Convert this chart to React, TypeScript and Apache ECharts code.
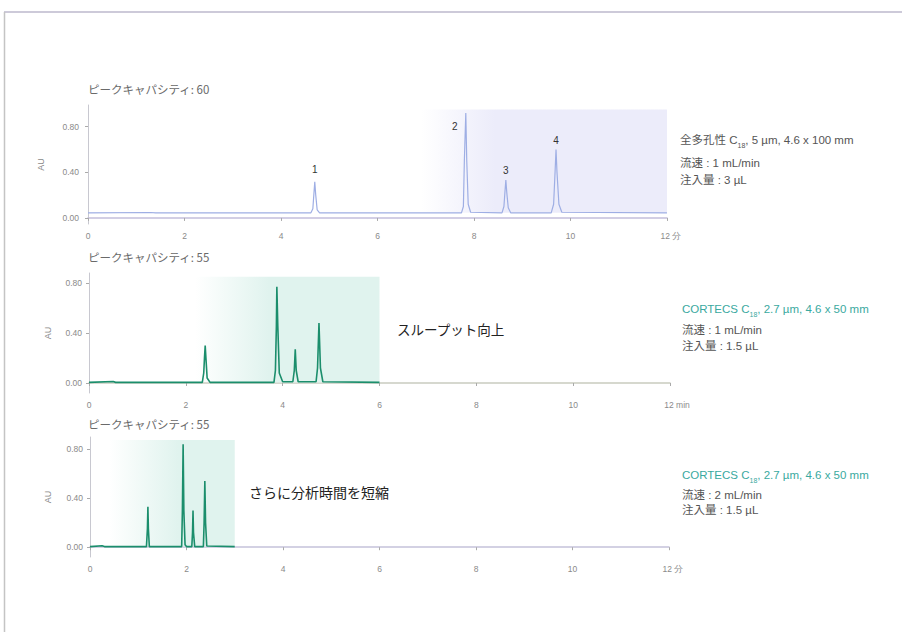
import React, { useEffect, useRef } from 'react';
import * as echarts from 'echarts';

// ---- data ----
const xTickValues = [0, 2, 4, 6, 8, 10, 12];
const yTickValues = [0, 0.4, 0.8];
const unitLabels = ['分', 'min', '分'];
const titles = ['ピークキャパシティ: 60', 'ピークキャパシティ: 55', 'ピークキャパシティ: 55'];

// trace 1: fully porous C18, 5 µm, 4.6 x 100 mm (time min, AU)
const trace1: [number, number][] = [
  [0, 0.045], [1.3, 0.048], [1.4, 0.045], [4.62, 0.045], [4.66, 0.08], [4.68, 0.2], [4.70, 0.316], [4.72, 0.2], [4.75, 0.07], [4.8, 0.045],
  [7.74, 0.045], [7.78, 0.1], [7.80, 0.5], [7.83, 0.92], [7.85, 0.5], [7.88, 0.12], [7.93, 0.05],
  [8.58, 0.045], [8.62, 0.1], [8.64, 0.22], [8.66, 0.333], [8.68, 0.22], [8.71, 0.09], [8.76, 0.045],
  [9.60, 0.045], [9.65, 0.12], [9.68, 0.4], [9.70, 0.60], [9.72, 0.4], [9.76, 0.12], [9.82, 0.05], [12, 0.045],
];
// trace 2: CORTECS C18, 1 mL/min
const trace2: [number, number][] = [
  [0, 0.005], [0.5, 0.012], [0.55, 0.005], [2.34, 0.005], [2.37, 0.08], [2.385, 0.2], [2.40, 0.30], [2.415, 0.2], [2.44, 0.04], [2.5, 0.005],
  [3.82, 0.005], [3.85, 0.1], [3.87, 0.45], [3.88, 0.77], [3.90, 0.45], [3.93, 0.08], [4.0, 0.01],
  [4.21, 0.01], [4.24, 0.1], [4.26, 0.27], [4.28, 0.1], [4.32, 0.01],
  [4.69, 0.01], [4.72, 0.12], [4.75, 0.48], [4.78, 0.12], [4.83, 0.01], [6, 0.005],
];
// trace 3: CORTECS C18, 2 mL/min
const trace3: [number, number][] = [
  [0, 0.005], [0.25, 0.012], [0.3, 0.005], [1.17, 0.005], [1.19, 0.15], [1.20, 0.33], [1.21, 0.15], [1.23, 0.005],
  [1.90, 0.005], [1.915, 0.3], [1.93, 0.84], [1.945, 0.3], [1.97, 0.02], [2.0, 0.005],
  [2.11, 0.005], [2.125, 0.12], [2.135, 0.30], [2.145, 0.12], [2.17, 0.005],
  [2.35, 0.005], [2.365, 0.2], [2.38, 0.54], [2.395, 0.2], [2.42, 0.01], [3, 0.005],
];
// peak numbers in trace 1
const peakNames = ['1', '2', '3', '4'];
const peakTimes = [4.70, 7.83, 8.66, 9.70];
const peakHeights = [0.316, 0.92, 0.333, 0.60];

// shaded regions [start, end, top]
const shade1 = [6.9, 12, 0.95];
const shade2 = [2.2, 6, 0.85];
const shade3 = [0.4, 3, 0.875];

const traces = [trace1, trace2, trace3];

export default function App() {
  const ref = useRef<HTMLDivElement>(null);
  useEffect(() => {
    if (!ref.current) return;
    const chart = echarts.init(ref.current, null, { renderer: 'svg' });
    const grids = [
      { left: 88, top: 105, width: 579, height: 119 },
      { left: 89, top: 273, width: 581, height: 120 },
      { left: 90, top: 437, width: 579, height: 120 },
    ];
    const yRanges = [[-0.053, 0.99], [-0.08, 0.88], [-0.08, 0.9]];
    const nameGaps = [43, 37, 38];
    const axisColors = ['#c3bedc', '#c9cbbf', '#c5c2da'];
    const lineColors = ['#9eaee4', '#1b8e6c', '#1b8e6c'];
    const shadeRgb = ['236,236,250', '224,243,238', '224,243,238'];
    const shades = [shade1, shade2, shade3];
    const solidStops = [0.3, 0.4, 0.55];
    const labelFont = { fontFamily: 'Liberation Sans, DejaVu Sans, sans-serif', fontSize: 8.5, color: '#8a8a8a' };

    const xAxis = grids.map((_, i) => ({
      type: 'value', gridIndex: i, min: 0, max: 12, interval: 2,
      axisLine: { show: true, lineStyle: { color: axisColors[i], width: 1.5 } },
      axisTick: { show: true, length: 3, inside: false, lineStyle: { color: '#aaa' } },
      splitLine: { show: false },
      axisLabel: {
        ...labelFont, margin: 7,
        formatter: (v: number) => (v === 12 ? `{p|}12 ${unitLabels[i]}` : String(v)),
        rich: { p: { width: i === 1 ? 14 : 8 } },
      },
    }));
    const yAxis = grids.map((_, i) => ({
      type: 'value', gridIndex: i, min: yRanges[i][0], max: yRanges[i][1],
      name: 'AU', nameLocation: 'middle', nameRotate: 90, nameGap: nameGaps[i],
      nameTextStyle: { ...labelFont, fontSize: 9 },
      axisLine: { show: true, lineStyle: { color: '#c8c8d0', width: 1 } },
      axisTick: { show: true, length: 3, customValues: yTickValues, lineStyle: { color: '#aaa' } },
      splitLine: { show: false },
      axisLabel: { ...labelFont, margin: i === 0 ? 9 : 7, customValues: yTickValues, formatter: (v: number) => v.toFixed(2) },
    }));

    const series = traces.map((t, i) => ({
      type: 'line', xAxisIndex: i, yAxisIndex: i, data: t, showSymbol: false, symbol: 'none',
      lineStyle: { color: lineColors[i], width: i === 0 ? 1.2 : 1.6 },
      z: 3,
      markArea: {
        silent: true,
        itemStyle: {
          color: new echarts.graphic.LinearGradient(0, 0, 1, 0, [
            { offset: 0, color: `rgba(${shadeRgb[i]},0)` },
            { offset: solidStops[i], color: `rgba(${shadeRgb[i]},1)` },
            { offset: 1, color: `rgba(${shadeRgb[i]},1)` },
          ]),
        },
        data: [[{ xAxis: shades[i][0], yAxis: i === 0 ? 0.045 : 0.005 }, { xAxis: shades[i][1], yAxis: shades[i][2] }]],
      },
      markPoint: i === 0 ? {
        symbol: 'circle', symbolSize: 0, silent: true,
        label: { show: true, color: '#333', fontSize: 10, fontFamily: 'Liberation Sans, sans-serif', formatter: (p: any) => p.name },
        data: peakNames.map((n, k) => ({
          name: n, coord: [peakTimes[k], peakHeights[k]],
          label: { offset: k === 1 ? [-11, 14] : [0, k === 0 ? -12 : -9] },
        })),
      } : undefined,
    }));

    const fs = 11.5;
    const small = { fontFamily: 'Liberation Sans, Noto Sans CJK JP, sans-serif', fontSize: fs, fill: '#555' };
    const rich = (color: string) => ({
      a: { fontSize: fs, fill: color, color, lineHeight: 14, verticalAlign: 'top', fontFamily: 'Liberation Sans, Noto Sans CJK JP, sans-serif' },
      s: { fontSize: 7, fill: color, color, lineHeight: 8, verticalAlign: 'top', padding: [8, 0, 0, 0], fontFamily: 'Liberation Sans, sans-serif' },
    });
    const titleStyle = { fontFamily: 'Noto Sans CJK JP, sans-serif', fontSize: 11.5, fill: '#6a6a6a' };
    const graphic: any[] = [
      { type: 'line', shape: { x1: 4, y1: 12, x2: 902, y2: 12 }, style: { stroke: '#bcb8cc', lineWidth: 1.5 } },
      { type: 'line', shape: { x1: 4.5, y1: 12, x2: 4.5, y2: 632 }, style: { stroke: '#c4c4c4', lineWidth: 1.5 } },
      { type: 'text', x: 88, y: 83, style: { ...titleStyle, text: titles[0] } },
      { type: 'text', x: 88, y: 251, style: { ...titleStyle, text: titles[1] } },
      { type: 'text', x: 88, y: 418, style: { ...titleStyle, text: titles[2] } },
      { type: 'text', x: 680, y: 134, style: { text: '{a|全多孔性 C}{s|18}{a|, 5 µm, 4.6 x 100 mm}', fill: '#555', rich: rich('#555') } },
      { type: 'text', x: 680, y: 157, style: { ...small, text: '流速 : 1 mL/min' } },
      { type: 'text', x: 680, y: 174, style: { ...small, text: '注入量 : 3 µL' } },
      { type: 'text', x: 682, y: 303, style: { text: '{a|CORTECS C}{s|18}{a|, 2.7 µm, 4.6 x 50 mm}', fill: '#3aa9a0', rich: rich('#3aa9a0') } },
      { type: 'text', x: 682, y: 324, style: { ...small, text: '流速 : 1 mL/min' } },
      { type: 'text', x: 682, y: 340, style: { ...small, text: '注入量 : 1.5 µL' } },
      { type: 'text', x: 682, y: 469, style: { text: '{a|CORTECS C}{s|18}{a|, 2.7 µm, 4.6 x 50 mm}', fill: '#3aa9a0', rich: rich('#3aa9a0') } },
      { type: 'text', x: 682, y: 489, style: { ...small, text: '流速 : 2 mL/min' } },
      { type: 'text', x: 682, y: 504, style: { ...small, text: '注入量 : 1.5 µL' } },
      { type: 'text', x: 397, y: 322, style: { fontFamily: 'Noto Sans CJK JP, sans-serif', fontSize: 13.5, fill: '#222', text: 'スループット向上' } },
      { type: 'text', x: 249, y: 485, style: { fontFamily: 'Noto Sans CJK JP, sans-serif', fontSize: 14, fill: '#222', text: 'さらに分析時間を短縮' } },
    ];

    chart.setOption({
      animation: false,
      backgroundColor: '#ffffff',
      grid: grids,
      xAxis, yAxis, series, graphic,
    } as any);
    return () => chart.dispose();
  }, []);
  return <div ref={ref} style={{ position: 'fixed', left: 0, top: 0, width: 902, height: 632 }} />;
}
